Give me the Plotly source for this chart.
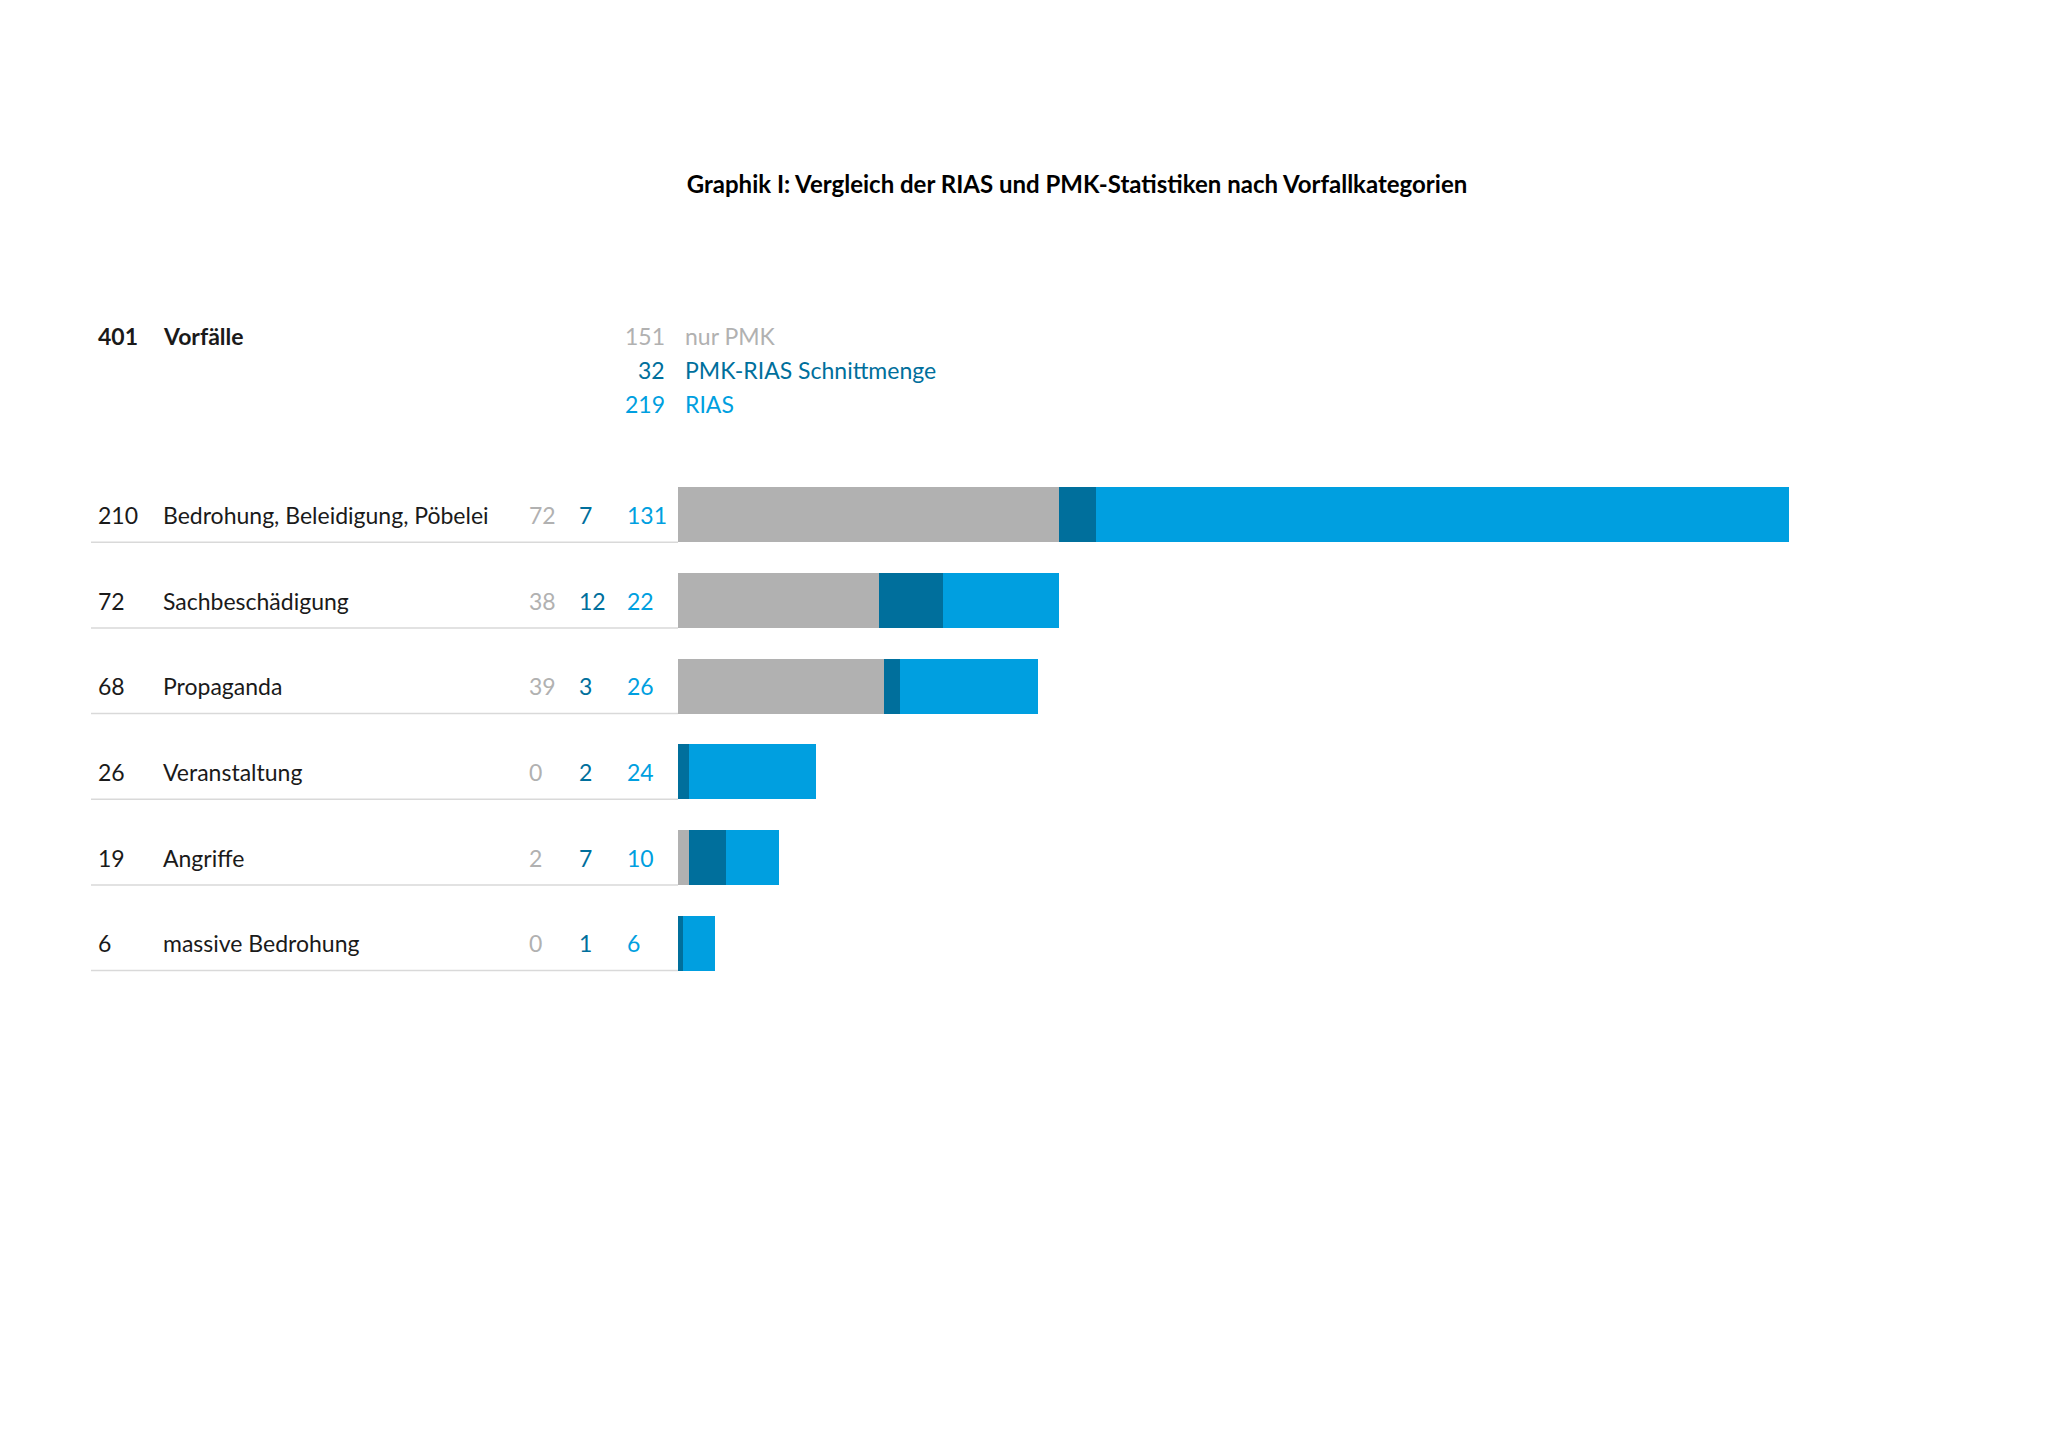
import plotly.graph_objects as go

categories = ['Bedrohung, Beleidigung, Pöbelei', 'Sachbeschädigung', 'Propaganda',
              'Veranstaltung', 'Angriffe', 'massive Bedrohung']
totals = [210, 72, 68, 26, 19, 6]
nur_pmk = [72, 38, 39, 0, 2, 0]
schnitt = [7, 12, 3, 2, 7, 1]
rias = [131, 22, 26, 24, 10, 6]

legend_names = ['nur PMK', 'PMK-RIAS Schnittmenge', 'RIAS']
legend_values = [151, 32, 219]
total_all = 401

GRAY = '#b1b1b1'
DARK = '#006f9c'
LIGHT = '#009fe0'
FONT = 'Lato'

# page body has an 8px margin, so the figure is drawn 8px smaller and shifted
OFF = 8
W, H = 2048 - OFF, 1443 - OFF
L, R = 678 - OFF, 259
T, B = 472 - OFF, 457
PW = W - L - R
PH = H - T - B


def px(x):
    return (x - OFF - L) / PW


def py(y):
    return (H - B - (y - OFF)) / PH


fig = go.Figure()
for name, vals, col in zip(legend_names, [nur_pmk, schnitt, rias], [GRAY, DARK, LIGHT]):
    fig.add_trace(go.Bar(name=name, y=categories, x=vals, orientation='h',
                         marker=dict(color=col, line=dict(width=0)),
                         showlegend=False, hoverinfo='x+name'))

ann = []
# header
ann.append(dict(x=px(96), y=py(336), text='<b>%d</b>' % total_all, xanchor='left'))
ann.append(dict(x=px(161), y=py(336), text='<b>Vorfälle</b>', xanchor='left'))
for i, (name, val, col) in enumerate(zip(legend_names, legend_values, [GRAY, DARK, LIGHT])):
    yy = py(336 + i * 34)
    ann.append(dict(x=px(667), y=yy, text=str(val), xanchor='right', font=dict(color=col)))
    ann.append(dict(x=px(683), y=yy, text=name, xanchor='left', font=dict(color=col)))

# row labels
for cat, tot, a, b, c in zip(categories, totals, nur_pmk, schnitt, rias):
    for xx, txt, col in [(96, tot, '#1a1a1a'), (161, cat, '#1a1a1a'),
                         (527, a, GRAY), (577, b, DARK), (625, c, LIGHT)]:
        ann.append(dict(x=px(xx), xref='paper', y=cat, yref='y', text=str(txt),
                        xanchor='left', font=dict(color=col)))

for a in ann:
    a.setdefault('xref', 'paper')
    a.setdefault('yref', 'paper')
    a.setdefault('yanchor', 'middle')
    a.setdefault('showarrow', False)
    f = a.setdefault('font', {})
    f.setdefault('color', '#1a1a1a')
    f.setdefault('size', 23)
    f.setdefault('family', FONT)

# separator lines under each row
shapes = []
for i in range(len(categories)):
    shapes.append(dict(type='line', xref='paper', yref='y', x0=px(91), x1=px(678),
                       y0=i + 0.32, y1=i + 0.32, line=dict(color='#d9d9d9', width=1.5)))

fig.update_layout(
    barmode='stack',
    bargap=0.36,
    width=W, height=H,
    margin=dict(l=L, r=R, t=T, b=B, pad=0),
    paper_bgcolor='white', plot_bgcolor='white',
    font=dict(family=FONT, size=23, color='#1a1a1a'),
    title=dict(text='<b>Graphik I: Vergleich der RIAS und PMK-Statistiken nach Vorfallkategorien</b>',
               x=(1077 - OFF) / W, xanchor='center', y=1 - (185 - OFF) / H, yanchor='middle',
               font=dict(family=FONT, size=24, color='#000000')),
    xaxis=dict(range=[0, 210], visible=False, fixedrange=True),
    yaxis=dict(range=[len(categories) - 0.5, -0.5], visible=False, fixedrange=True),
    annotations=ann,
    shapes=shapes,
)

fig.write_html("out.html")
